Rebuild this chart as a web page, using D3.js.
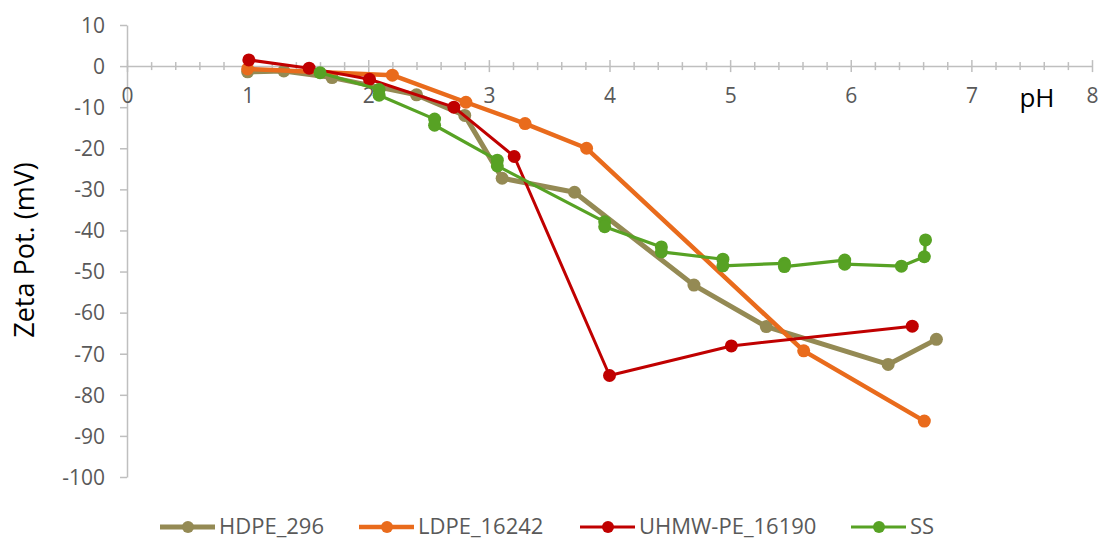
<!DOCTYPE html>
<html>
<head>
<meta charset="utf-8">
<script src="https://d3js.org/d3.v7.min.js"></script>
<style>
    body { margin: 0; background: #fff; }
    #chart text { font-family: "Open Sans", "Noto Sans", sans-serif; }
</style>
</head>
<body>
<div id="chart"></div>
<script>
// pH / zeta potential
var hdpeX = [1.0, 1.3, 1.7, 2.4, 2.8, 3.11, 3.71, 4.7, 5.3, 6.31, 6.71]
var hdpeY = [-1.4, -1.2, -2.8, -7.0, -12.0, -27.3, -30.7, -53.3, -63.4, -72.6, -66.5]

var ldpeX = [1.0, 2.2, 2.81, 3.3, 3.81, 5.61, 6.61]
var ldpeY = [-0.7, -2.2, -8.8, -14.0, -20.0, -69.3, -86.4]

var uhmwX = [1.01, 1.51, 2.01, 2.71, 3.21, 4.0, 5.01, 6.51]
var uhmwY = [1.5, -0.5, -3.2, -10.0, -22.0, -75.3, -68.1, -63.3]

var ssX = [1.6, 2.09, 2.09, 2.55, 2.55, 3.07, 3.07, 3.96, 3.96, 4.43, 4.43,
           4.94, 4.94, 5.45, 5.45, 5.95, 5.95, 6.42, 6.61, 6.62]
var ssY = [-1.6, -5.7, -7.1, -12.9, -14.4, -22.9, -24.3, -37.9, -39.1, -44.0, -45.2,
           -47.0, -48.6, -48.0, -48.8, -47.2, -48.2, -48.7, -46.4, -42.3]

var seriesNames = ["HDPE_296", "LDPE_16242", "UHMW-PE_16190", "SS"]
var xTicks = [0, 1, 2, 3, 4, 5, 6, 7, 8]
var yTicks = [10, 0, -10, -20, -30, -40, -50, -60, -70, -80, -90, -100]

var series = [
    {name: seriesNames[0], xs: hdpeX, ys: hdpeY, color: "#948a54", width: 5},
    {name: seriesNames[1], xs: ldpeX, ys: ldpeY, color: "#e96b1c", width: 4.5},
    {name: seriesNames[2], xs: uhmwX, ys: uhmwY, color: "#c00000", width: 3},
    {name: seriesNames[3], xs: ssX, ys: ssY, color: "#57a224", width: 3.2}
]

var width = 1102
var height = 540

var svg = d3.select("#chart")
    .append("svg")
    .attr("width", width)
    .attr("height", height)

var x = d3.scaleLinear().domain([0, 8]).range([127, 1092])
var y = d3.scaleLinear().domain([10, -100]).range([25, 477])

var axisColor = "#bfbfbf"
var labelColor = "#595959"

// plain hyphen for negatives, like the original
var fmt = (d) => String(d)

// y axis
var yAxis = svg.append("g")
    .attr("transform", "translate(" + x(0) + ",0)")
    .call(d3.axisLeft(y).tickValues(yTicks).tickFormat(fmt).tickSize(7).tickSizeOuter(0).tickPadding(15))
yAxis.select(".domain").attr("stroke", axisColor).attr("stroke-width", 1.5)
yAxis.selectAll("line").attr("stroke", axisColor).attr("stroke-width", 1.5)
yAxis.selectAll("text")
    .attr("fill", labelColor)
    .style("font-size", "21px")
    .attr("dy", "0.35em")

// x axis, minor ticks every 0.2 then the major ones
var minor = d3.range(1, 40).map((i) => i / 5).filter((v) => Math.abs(v - Math.round(v)) > 1e-6)
var xMinor = svg.append("g")
    .attr("transform", "translate(0," + y(0) + ")")
    .call(d3.axisBottom(x).tickValues(minor).tickFormat("").tickSizeOuter(0))
xMinor.select(".domain").attr("stroke", axisColor).attr("stroke-width", 1.5)
xMinor.selectAll("line").attr("stroke", axisColor).attr("stroke-width", 1.5)
    .attr("y1", -4).attr("y2", 4)

var xAxis = svg.append("g")
    .attr("transform", "translate(0," + y(0) + ")")
    .call(d3.axisBottom(x).tickValues(xTicks).tickFormat(fmt).tickSizeOuter(0))
xAxis.select(".domain").remove()
xAxis.selectAll("line").attr("stroke", axisColor).attr("stroke-width", 1.5)
    .attr("y1", -6).attr("y2", 6)
xAxis.selectAll("text")
    .attr("fill", labelColor)
    .style("font-size", "21px")
    .attr("y", 37)
    .attr("dy", 0)

// axis titles
svg.append("text")
    .attr("x", 1037)
    .attr("y", 107)
    .attr("text-anchor", "middle")
    .attr("fill", "#000")
    .style("font-size", "26px")
    .text("pH")

svg.append("text")
    .attr("transform", "translate(34,250) rotate(-90)")
    .attr("text-anchor", "middle")
    .attr("fill", "#000")
    .style("font-size", "27px")
    .text("Zeta Pot. (mV)")

// series
var line = d3.line()
    .x((d) => x(d[0]))
    .y((d) => y(d[1]))

series.forEach((s) => {
    var pts = s.xs.map((v, i) => [v, s.ys[i]])
    var g = svg.append("g")
    g.append("path")
        .datum(pts)
        .attr("d", line)
        .attr("fill", "none")
        .attr("stroke", s.color)
        .attr("stroke-width", s.width)
        .attr("stroke-linejoin", "round")
    g.selectAll("circle")
        .data(pts)
        .enter()
        .append("circle")
        .attr("cx", (d) => x(d[0]))
        .attr("cy", (d) => y(d[1]))
        .attr("r", 6.5)
        .attr("fill", s.color)
})

// legend
var legendX = [160, 359, 580, 851]
var legend = svg.append("g")
series.forEach((s, i) => {
    var g = legend.append("g").attr("transform", "translate(" + legendX[i] + ",527)")
    g.append("line")
        .attr("x1", 0).attr("x2", 55)
        .attr("stroke", s.color)
        .attr("stroke-width", s.width)
    g.append("circle")
        .attr("cx", 28).attr("r", 6)
        .attr("fill", s.color)
    g.append("text")
        .attr("x", 59)
        .attr("y", 7)
        .attr("fill", labelColor)
        .style("font-size", "22px")
        .text(s.name)
})
</script>
</body>
</html>
